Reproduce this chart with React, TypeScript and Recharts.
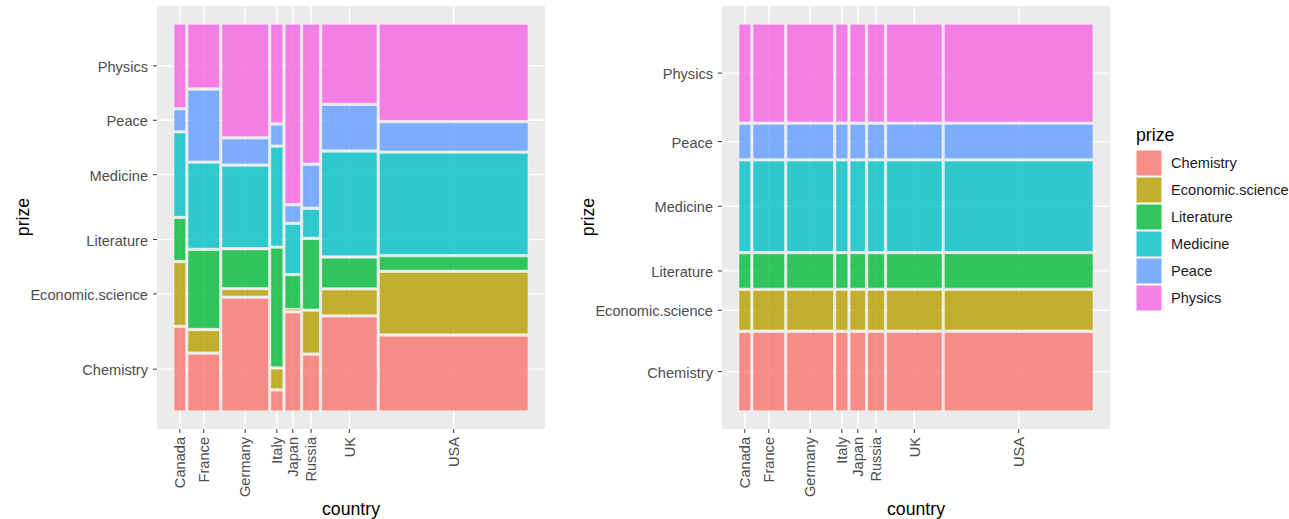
import React from "react";
import { ComposedChart, XAxis, YAxis, CartesianGrid, ReferenceArea, Scatter } from "recharts";

const countries = ["Canada", "France", "Germany", "Italy", "Japan", "Russia", "UK", "USA"];
// column widths: share of laureates per country (%)
const countryShare = [3.46, 9.35, 13.8, 3.55, 4.53, 4.94, 16.37, 43.99];

const prizes = ["Chemistry", "Economic.science", "Literature", "Medicine", "Peace", "Physics"];
const prizeColors = ["#F8766D", "#B79F00", "#00BA38", "#00BFC4", "#619CFF", "#F564E3"];

// laureates per prize, one value per country (same order as countries)
const chemistry = [4, 8, 18, 1, 6, 4, 19, 45];
const economics = [3, 3, 1, 1, 0, 3, 5, 37];
const literature = [2, 11, 6, 6, 2, 5, 6, 8];
const medicine = [4, 12, 13, 5, 3, 2, 21, 61];
const peace = [1, 10, 4, 1, 1, 3, 9, 17];
const physics = [4, 9, 18, 5, 11, 10, 16, 58];

const counts = [chemistry, economics, literature, medicine, peace, physics];

const GAP_X = 0.0065;
const GAP_Y = 0.006;
const FONT = "'Liberation Sans', Arial, sans-serif";
const TICK_SIZE = 14.6;
const TITLE_SIZE = 17.7;

const sum = (a: number[]) => a.reduce((s, v) => s + v, 0);

// split [0,1] into pieces proportional to values, with gaps
function split(values: number[], gap: number) {
  const total = sum(values);
  const usable = 1 - gap * (values.length - 1);
  let pos = 0;
  return values.map((v) => {
    const start = pos;
    const end = start + (usable * v) / total;
    pos = end + gap;
    return [start, end];
  });
}

const columns = split(countryShare, GAP_X);
const xTicks = columns.map(([a, b]) => (a + b) / 2);

const leftStacks = countries.map((_, c) => split(counts.map((arr) => arr[c]), GAP_Y));
const marginalStack = split(counts.map((arr) => sum(arr)), GAP_Y);

type Cell = { x1: number; x2: number; y1: number; y2: number; fill: string; key: string };

function buildCells(stackFor: (c: number) => number[][]): Cell[] {
  const cells: Cell[] = [];
  columns.forEach(([x1, x2], c) => {
    stackFor(c).forEach(([y1, y2], p) => {
      cells.push({ x1, x2, y1, y2: Math.max(y2, y1 + 0.004), fill: prizeColors[p], key: `${c}-${p}` });
    });
  });
  return cells;
}

const leftCells = buildCells((c) => leftStacks[c]);
const rightCells = buildCells(() => marginalStack);
const leftYTicks = leftStacks[0].map(([a, b]) => (a + b) / 2);
const rightYTicks = marginalStack.map(([a, b]) => (a + b) / 2);

const CountryTick = (props: any) => {
  const { x, y, index } = props;
  return (
    <g transform={`translate(${x},${y + 2})`}>
      <text transform="rotate(-90)" textAnchor="end" dy="0.35em" fontSize={TICK_SIZE} fill="#4D4D4D" fontFamily={FONT}>
        {countries[index]}
      </text>
    </g>
  );
};

const PrizeTick = (props: any) => {
  const { x, y, index } = props;
  return (
    <text x={x} y={y + 1} textAnchor="end" dy="0.35em" fontSize={TICK_SIZE} fill="#4D4D4D" fontFamily={FONT}>
      {prizes[index]}
    </text>
  );
};

function MosaicPanel({ cells, yTicks, left }: { cells: Cell[]; yTicks: number[]; left: number }) {
  return (
    <div style={{ position: "absolute", left, top: 0 }}>
      <ComposedChart width={560} height={519} margin={{ top: 6, right: 15, bottom: 0, left: 0 }}>
        <CartesianGrid
          fill="#EBEBEB"
          stroke="#FFFFFF"
          strokeWidth={1.3}
          verticalValues={xTicks}
          horizontalValues={yTicks}
        />
        <XAxis
          type="number"
          dataKey="x"
          domain={[-0.048, 1.048]}
          ticks={xTicks}
          interval={0}
          height={90}
          axisLine={false}
          tickSize={4}
          tickMargin={2}
          tickLine={{ stroke: "#333333" }}
          tick={<CountryTick />}
          allowDataOverflow
        />
        <YAxis
          type="number"
          dataKey="y"
          domain={[-0.047, 1.047]}
          ticks={yTicks}
          interval={0}
          width={157}
          axisLine={false}
          tickSize={4}
          tickMargin={5}
          tickLine={{ stroke: "#333333" }}
          tick={<PrizeTick />}
          allowDataOverflow
        />
        {cells.map((cell) => (
          <ReferenceArea
            key={cell.key}
            x1={cell.x1}
            x2={cell.x2}
            y1={cell.y1}
            y2={cell.y2}
            fill={cell.fill}
            fillOpacity={0.8}
            stroke="#FFFFFF"
            strokeOpacity={0.5}
            strokeWidth={1}
          />
        ))}
        <Scatter data={[]} isAnimationActive={false} />
      </ComposedChart>
    </div>
  );
}

export default function App() {
  return (
    <div style={{ position: "absolute", left: 0, top: 0, width: 1289, height: 519, background: "#FFFFFF", fontFamily: FONT }}>
      <MosaicPanel cells={leftCells} yTicks={leftYTicks} left={0} />
      <MosaicPanel cells={rightCells} yTicks={rightYTicks} left={565} />
      <svg width={1289} height={519} style={{ position: "absolute", left: 0, top: 0, pointerEvents: "none" }}>
        <text x={23} y={217} transform="rotate(-90 23 217)" textAnchor="middle" dy="0.35em" fontSize={TITLE_SIZE} fill="#000" fontFamily={FONT}>
          prize
        </text>
        <text x={588} y={217} transform="rotate(-90 588 217)" textAnchor="middle" dy="0.35em" fontSize={TITLE_SIZE} fill="#000" fontFamily={FONT}>
          prize
        </text>
        <text x={351} y={515} textAnchor="middle" fontSize={TITLE_SIZE} fill="#000" fontFamily={FONT}>
          country
        </text>
        <text x={916} y={515} textAnchor="middle" fontSize={TITLE_SIZE} fill="#000" fontFamily={FONT}>
          country
        </text>
        <text x={1136} y={141} fontSize={TITLE_SIZE} fill="#000" fontFamily={FONT}>
          prize
        </text>
        {prizes.map((p, i) => (
          <g key={p}>
            <rect x={1136} y={150 + 27 * i} width={26} height={26} fill="#F2F2F2" />
            <rect x={1136} y={150 + 27 * i} width={26} height={26} fill={prizeColors[i]} fillOpacity={0.8} stroke="#FFFFFF" strokeWidth={1} />
            <text x={1171} y={163 + 27 * i} dy="0.35em" fontSize={TICK_SIZE} fill="#1A1A1A" fontFamily={FONT}>
              {p}
            </text>
          </g>
        ))}
      </svg>
    </div>
  );
}
